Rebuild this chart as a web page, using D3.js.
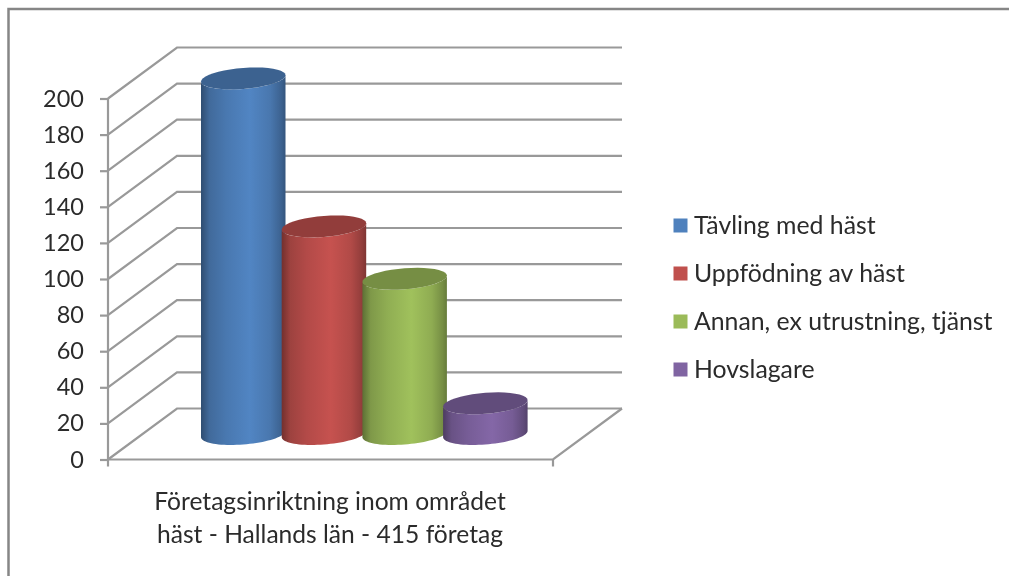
<!DOCTYPE html>
<html>
<head>
<title>Företagsinriktning</title>
<style>
html, body { margin: 0; padding: 0; background: white; overflow: hidden; }
svg { display: block; filter: blur(0.45px); }
text { font-family: Lato, sans-serif; fill: #2b2b2b; }
.axis-y path, .axis-y line { stroke: #999; stroke-width: 2.2px; }
.grid { fill: none; stroke: #999; stroke-width: 2.2px; }
</style>
<script src="https://d3js.org/d3.v7.min.js"></script>
</head>
<body>
<svg id="chart" width="1009" height="576"></svg>
<script>
const series = ['Tävling med häst', 'Uppfödning av häst', 'Annan, ex utrustning, tjänst', 'Hovslagare'];
const values = [197, 115, 86, 17];
const yTicks = [0, 20, 40, 60, 80, 100, 120, 140, 160, 180, 200];
const titleLines = ['Företagsinriktning inom området', 'häst - Hallands län - 415 företag'];
const baseColors = ['#4f81bd', '#c0504d', '#9bbb59', '#8064a2'];

const svg = d3.select('#chart');
const plotLeft = 108, plotRight = 553, plotBottom = 459.5, plotTop = 98.5;
const depthX = 69, depthY = -51;

const x = d3.scaleBand().domain(series).range([201, 201 + 4 * 80.7]);
const y = d3.scaleLinear().domain([0, 200]).range([plotBottom, plotTop]);
const barWidth = 84.5;

// chart frame
svg.append('path')
  .attr('d', 'M8.5,576V9H1009')
  .attr('fill', 'none')
  .attr('stroke', '#868686')
  .attr('stroke-width', 2.5);

// gridlines: back wall + side wall
svg.append('g').selectAll('path')
  .data(yTicks)
  .join('path')
  .attr('class', 'grid')
  .attr('d', d => `M${plotLeft},${y(d)}L${plotLeft + depthX},${y(d) + depthY}H${plotRight + depthX}`);

// floor front edge and right side
svg.append('path')
  .attr('class', 'grid')
  .attr('d', `M${plotLeft},${plotBottom}H${plotRight}L${plotRight + depthX},${plotBottom + depthY}`);
svg.append('path')
  .attr('class', 'grid')
  .attr('d', `M${plotRight},${plotBottom}v7`);

// value axis
const axis = d3.axisLeft(y).tickValues(yTicks).tickSize(8).tickPadding(16);
const axisG = svg.append('g')
  .attr('class', 'axis-y')
  .attr('transform', `translate(${plotLeft},0)`)
  .call(axis);
axisG.select('.domain').attr('d', `M0,${plotTop}V${plotBottom + 7}`);
axisG.selectAll('text')
  .attr('font-size', 23.5)
  .style('font-family', 'Lato, sans-serif')
  .attr('fill', '#2b2b2b');

// cylinders
const defs = svg.append('defs');
const line = d3.line();
const ry = 10.5, tilt = 3.2;
const baseShift = depthY / 2;

function ellipsePoints(cx, cy, rx, from, to) {
  return d3.range(0, 41).map(i => {
    const t = from + (to - from) * i / 40;
    return [cx + rx * Math.cos(t), cy + ry * Math.sin(t) - tilt * Math.cos(t)];
  });
}

series.forEach((s, i) => {
  const base = d3.color(baseColors[i]);
  const grad = defs.append('linearGradient').attr('id', 'cyl' + i);
  [[0, 0.6], [0.1, 0.82], [0.3, 0.93], [0.58, 1.03], [0.82, 0.92], [0.95, 0.76], [1, 0.66]].forEach(st => {
    const c = d3.rgb(base.r * st[1], base.g * st[1], base.b * st[1]);
    grad.append('stop').attr('offset', st[0]).attr('stop-color', c.formatHex());
  });
  const rx = barWidth / 2;
  const cx = x(s) + rx;
  const yBase = plotBottom + baseShift;
  const yTop = y(values[i]) + baseShift;

  const g = svg.append('g');
  // body: front half of base ellipse, then back over the top ellipse
  const body = ellipsePoints(cx, yBase, rx, Math.PI, 0)
    .concat(ellipsePoints(cx, yTop, rx, 0, Math.PI));
  g.append('path')
    .attr('d', line(body) + 'Z')
    .attr('fill', `url(#cyl${i})`);
  // top cap
  g.append('path')
    .attr('d', line(ellipsePoints(cx, yTop, rx, 0, 2 * Math.PI)) + 'Z')
    .attr('fill', d3.rgb(base.r * 0.76, base.g * 0.76, base.b * 0.76).formatHex());
});

// legend
const legendY = d3.scalePoint().domain(series).range([225.5, 369.5]);
const legend = svg.append('g').selectAll('g')
  .data(series)
  .join('g')
  .attr('transform', d => `translate(0,${legendY(d)})`);
legend.append('rect')
  .attr('x', 673.5).attr('y', -7)
  .attr('width', 14).attr('height', 14)
  .attr('fill', (d, i) => baseColors[i]);
legend.append('text')
  .attr('x', 694).attr('dy', '0.35em')
  .attr('font-size', 24.8)
  .text(d => d);

// category label
svg.append('g').selectAll('text')
  .data(titleLines)
  .join('text')
  .attr('x', 330)
  .attr('y', (d, i) => 510 + i * 33)
  .attr('text-anchor', 'middle')
  .attr('font-size', 24.6)
  .text(d => d);
</script>
</body>
</html>
